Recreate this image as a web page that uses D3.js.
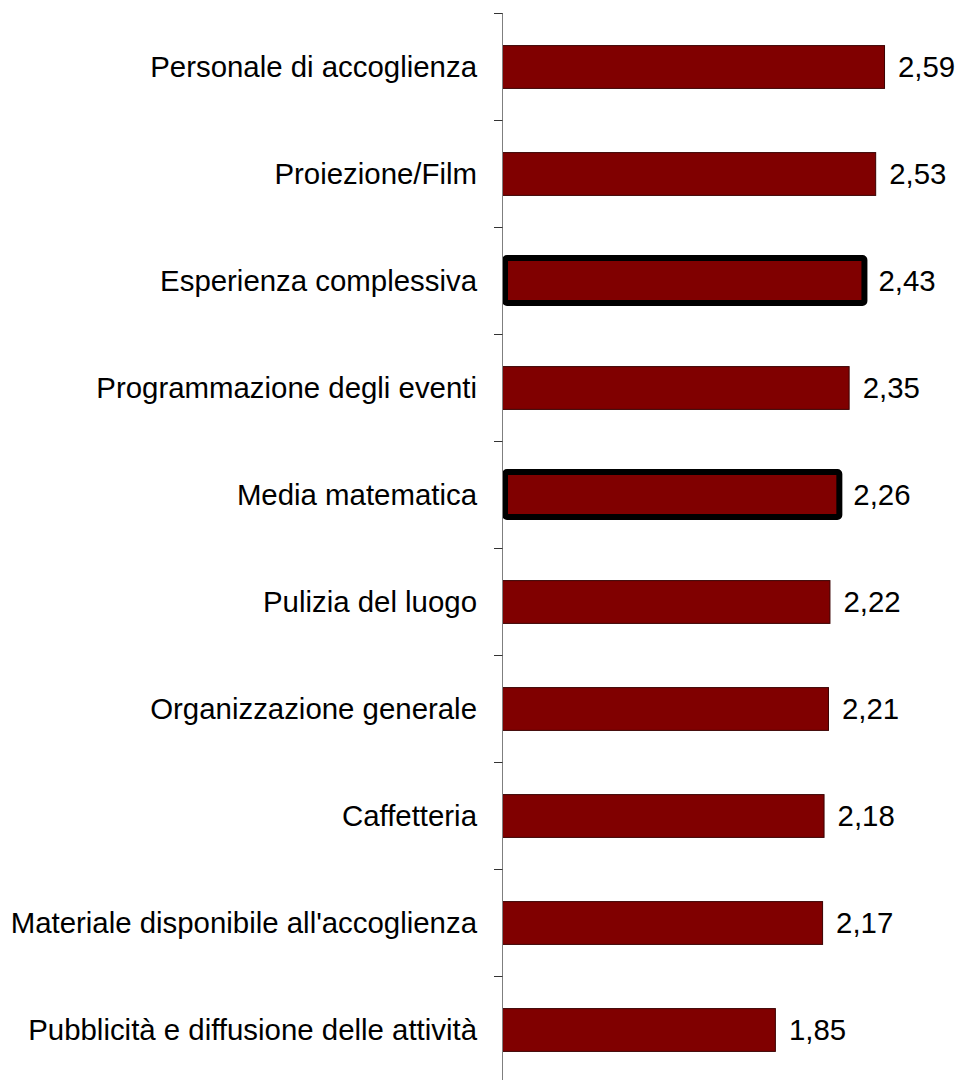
<!DOCTYPE html>
<html>
<head>
<meta charset="utf-8">
<script src="https://cdn.jsdelivr.net/npm/d3@7"></script>
<style>
  html, body { margin: 0; padding: 0; background: #fff; }
  svg { display: block; }
  text { font-family: "Liberation Sans", Arial, sans-serif; fill: #000; }
</style>
</head>
<body>
<svg id="chart" width="961" height="1080"></svg>
<script>
// Valutazione media per aspetto del servizio
const categories = [
  "Personale di accoglienza",
  "Proiezione/Film",
  "Esperienza complessiva",
  "Programmazione degli eventi",
  "Media matematica",
  "Pulizia del luogo",
  "Organizzazione generale",
  "Caffetteria",
  "Materiale disponibile all'accoglienza",
  "Pubblicità e diffusione delle attività"
];
const values = [2.59, 2.53, 2.43, 2.35, 2.26, 2.22, 2.21, 2.18, 2.17, 1.85];
const highlighted = ["Esperienza complessiva", "Media matematica"];

const svg = d3.select("#chart");
const axisX = 502;
const fontSize = 29.4;

const x = d3.scaleLinear().domain([0, 3]).range([axisX, axisX + 442.5]);
const y = d3.scaleBand().domain(categories).range([13, 1083]).paddingInner(0.6).paddingOuter(0.3);

const fmt = v => d3.format(".2f")(v).replace(".", ",");

// Bars
const bars = svg.append("g");
categories.forEach((c, i) => {
  const v = values[i];
  const isHi = highlighted.includes(c);
  if (isHi) {
    bars.append("rect")
      .attr("x", x(0) + 3)
      .attr("y", y(c) - 1)
      .attr("width", x(v) - x(0) + 1)
      .attr("height", y.bandwidth() + 2)
      .attr("rx", 2)
      .attr("fill", "#800000")
      .attr("stroke", "#000")
      .attr("stroke-width", 6)
      .attr("stroke-linejoin", "round");
  } else {
    bars.append("rect")
      .attr("x", x(0) + 0.5)
      .attr("y", y(c) + 0.5)
      .attr("width", x(v) - x(0))
      .attr("height", y.bandwidth())
      .attr("fill", "#800000")
      .attr("stroke", "#3a0000")
      .attr("stroke-width", 1);
  }
  svg.append("text")
    .attr("x", x(v) + (isHi ? 18 : 14))
    .attr("y", y(c) + y.bandwidth() / 2)
    .attr("dy", "0.36em")
    .attr("font-size", fontSize)
    .text(fmt(v));
});

// Category axis with ticks between bands
const axis = svg.append("g");
axis.append("line")
  .attr("x1", axisX + 0.5).attr("x2", axisX + 0.5)
  .attr("y1", y.range()[0]).attr("y2", 1080)
  .attr("stroke", "#7f7f7f").attr("stroke-width", 1);
const step = y.step();
d3.range(categories.length).forEach(i => {
  const ty = Math.round(y.range()[0] + i * step) + 0.5;
  axis.append("line")
    .attr("x1", axisX - 8).attr("x2", axisX + 0.5)
    .attr("y1", ty).attr("y2", ty)
    .attr("stroke", "#333").attr("stroke-width", 1);
});
categories.forEach(c => {
  axis.append("text")
    .attr("x", axisX - 25)
    .attr("y", y(c) + y.bandwidth() / 2)
    .attr("dy", "0.36em")
    .attr("text-anchor", "end")
    .attr("font-size", fontSize)
    .text(c);
});
</script>
</body>
</html>
